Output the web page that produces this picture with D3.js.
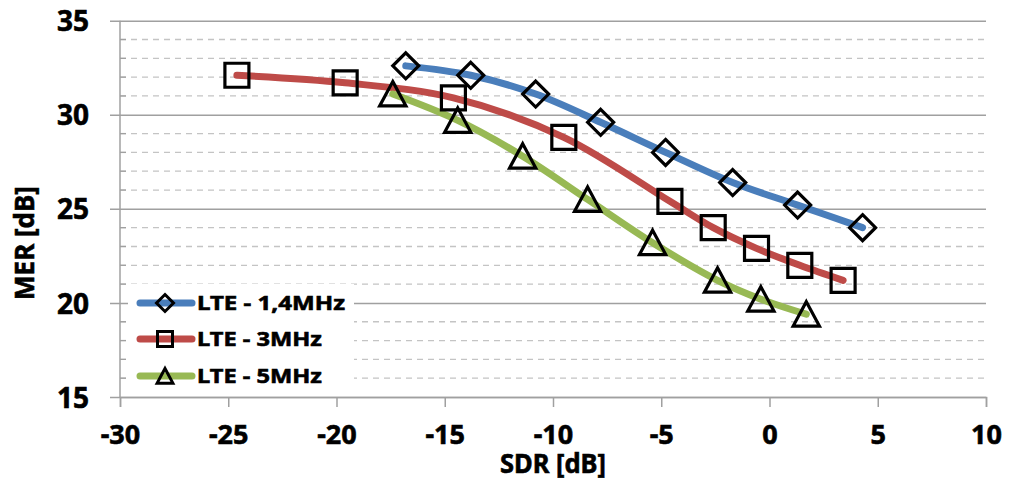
<!DOCTYPE html>
<html>
<head>
<meta charset="utf-8">
<script src="https://cdn.jsdelivr.net/npm/d3@7"></script>
<style>
  body { margin: 0; background: #fff; }
  text { font-family: "Noto Sans", sans-serif; font-weight: bold; fill: #000; stroke: #000; stroke-width: 0.6px; }
</style>
</head>
<body>
<div id="chart"></div>
<script>
// values
let sdr14 = [-16.8, -13.8, -10.8, -7.8, -4.8, -1.7, 1.3, 4.3];
let mer14 = [32.6, 32.1, 31.1, 29.6, 28.0, 26.4, 25.2, 24.0];
let sdr3 = [-24.6, -19.6, -14.6, -9.5, -4.6, -2.6, -0.6, 1.4, 3.4];
let mer3 = [32.1, 31.7, 30.9, 28.8, 25.4, 24.0, 22.9, 22.0, 21.2];
let sdr5 = [-17.4, -14.4, -11.4, -8.4, -5.4, -2.4, -0.4, 1.7];
let mer5 = [31.1, 29.7, 27.8, 25.5, 23.2, 21.2, 20.2, 19.4];

let seriesNames = ["LTE - 1,4MHz", "LTE - 3MHz", "LTE - 5MHz"];
let xTicks = [-30, -25, -20, -15, -10, -5, 0, 5, 10];
let yTicks = [15, 20, 25, 30, 35];

let colors = ["#4a7ebb", "#be4b48", "#98b954"];
let shapes = ["diamond", "square", "triangle"];

let width = 1010, height = 480;
let font = "'Noto Sans', sans-serif";

let svg = d3.select("#chart").append("svg")
    .attr("width", width)
    .attr("height", height);

let x = d3.scaleLinear().domain([-30, 10]).range([120, 986]);
let y = d3.scaleLinear().domain([15, 35]).range([397, 20.7]);

// minor dashed grid every 1 dB
let minor = d3.range(16, 35).filter(v => v % 5 != 0);
svg.append("g").selectAll("line").data(minor).enter().append("line")
    .attr("x1", x(-30)).attr("x2", x(10))
    .attr("y1", d => y(d)).attr("y2", d => y(d))
    .attr("stroke", "#c4c4c4").attr("stroke-width", 1.3)
    .attr("stroke-dasharray", "6,5");

// minor ticks inside axis
svg.append("g").selectAll("line").data(minor).enter().append("line")
    .attr("x1", x(-30)).attr("x2", x(-30) + 6)
    .attr("y1", d => y(d)).attr("y2", d => y(d))
    .attr("stroke", "#a0a0a0").attr("stroke-width", 1.3);

// major grid + y axis
let yAxis = d3.axisLeft(y).tickValues(yTicks).tickSize(10).tickFormat(d => String(d));
let gy = svg.append("g").attr("transform", "translate(" + x(-30) + ",0)").call(yAxis);
gy.select(".domain").remove();
gy.selectAll(".tick line").attr("stroke", "#a0a0a0").attr("stroke-width", 1.5)
    .attr("x2", x(10) - x(-30)).attr("x1", -10);
gy.selectAll(".tick text").attr("font-size", 28).attr("x", -31).attr("dy", "0.36em")
    .style("font-family", font).style("font-weight", "bold");
gy.append("line").attr("x1", 0).attr("x2", 0).attr("y1", y(35)).attr("y2", y(15))
    .attr("stroke", "#a0a0a0").attr("stroke-width", 1.5);

// x axis
let xAxis = d3.axisBottom(x).tickValues(xTicks).tickSize(10).tickFormat(d => String(d));
let gx = svg.append("g").attr("transform", "translate(0," + y(15) + ")").call(xAxis);
gx.select(".domain").attr("stroke", "#a0a0a0").attr("stroke-width", 1.5);
gx.selectAll(".tick line").attr("stroke", "#a0a0a0").attr("stroke-width", 1.5);
gx.selectAll(".tick text").attr("font-size", 27).attr("y", 47).attr("dy", 0)
    .style("font-family", font).style("font-weight", "bold");

// axis titles
svg.append("text").attr("x", (x(-30) + x(10)) / 2).attr("y", 473)
    .attr("text-anchor", "middle").attr("font-size", 26)
    .attr("textLength", 106).attr("lengthAdjust", "spacingAndGlyphs")
    .text("SDR [dB]");
svg.append("text").attr("transform", "translate(34,243) rotate(-90)")
    .attr("text-anchor", "middle").attr("font-size", 26).text("MER [dB]");

// series
let series = [
  sdr14.map((d, i) => [d, mer14[i]]),
  sdr3.map((d, i) => [d, mer3[i]]),
  sdr5.map((d, i) => [d, mer5[i]])
];

let line = d3.line()
    .x(d => x(d[0])).y(d => y(d[1]))
    .curve(d3.curveCatmullRom.alpha(0.5));

function markerPath(shape, s) {
  if (shape == "diamond") return "M0," + (-s) + "L" + s + ",0L0," + s + "L" + (-s) + ",0Z";
  if (shape == "square") return "M" + (-s) + "," + (-s) + "H" + s + "V" + s + "H" + (-s) + "Z";
  return "M0," + (-s) + "L" + (s * 1.05) + "," + (s * 0.95) + "L" + (-s * 1.05) + "," + (s * 0.95) + "Z";
}
let markerSize = [13, 12, 12.5];

series.forEach((pts, k) => {
  svg.append("path").datum(pts)
    .attr("d", line)
    .attr("fill", "none")
    .attr("stroke", colors[k])
    .attr("stroke-width", 7)
    .attr("stroke-linecap", "round")
    .attr("stroke-linejoin", "round");
});

series.forEach((pts, k) => {
  svg.append("g").selectAll("path").data(pts).enter().append("path")
    .attr("transform", d => "translate(" + x(d[0]) + "," + y(d[1]) + ")")
    .attr("d", markerPath(shapes[k], markerSize[k]))
    .attr("fill", "none")
    .attr("stroke", "#000")
    .attr("stroke-width", 3.2)
    .attr("stroke-linejoin", "miter");
});

// legend
let legend = svg.append("g");
legend.append("rect").attr("x", 128).attr("y", 284).attr("width", 226).attr("height", 108)
    .attr("fill", "#fff");
let legY = [303, 339, 376];
let legW = [148, 125, 125];
seriesNames.forEach((name, k) => {
  legend.append("line").attr("x1", 140).attr("x2", 192)
    .attr("y1", legY[k]).attr("y2", legY[k])
    .attr("stroke", colors[k]).attr("stroke-width", 7).attr("stroke-linecap", "round");
  legend.append("path").attr("transform", "translate(165," + legY[k] + ")")
    .attr("d", markerPath(shapes[k], shapes[k] == "diamond" ? 8.5 : 7.5))
    .attr("fill", "none").attr("stroke", "#000").attr("stroke-width", 3);
  legend.append("text").attr("x", 197).attr("y", legY[k]).attr("dy", "0.36em")
    .attr("font-size", 20)
    .attr("textLength", legW[k]).attr("lengthAdjust", "spacingAndGlyphs")
    .text(name);
});
</script>
</body>
</html>
